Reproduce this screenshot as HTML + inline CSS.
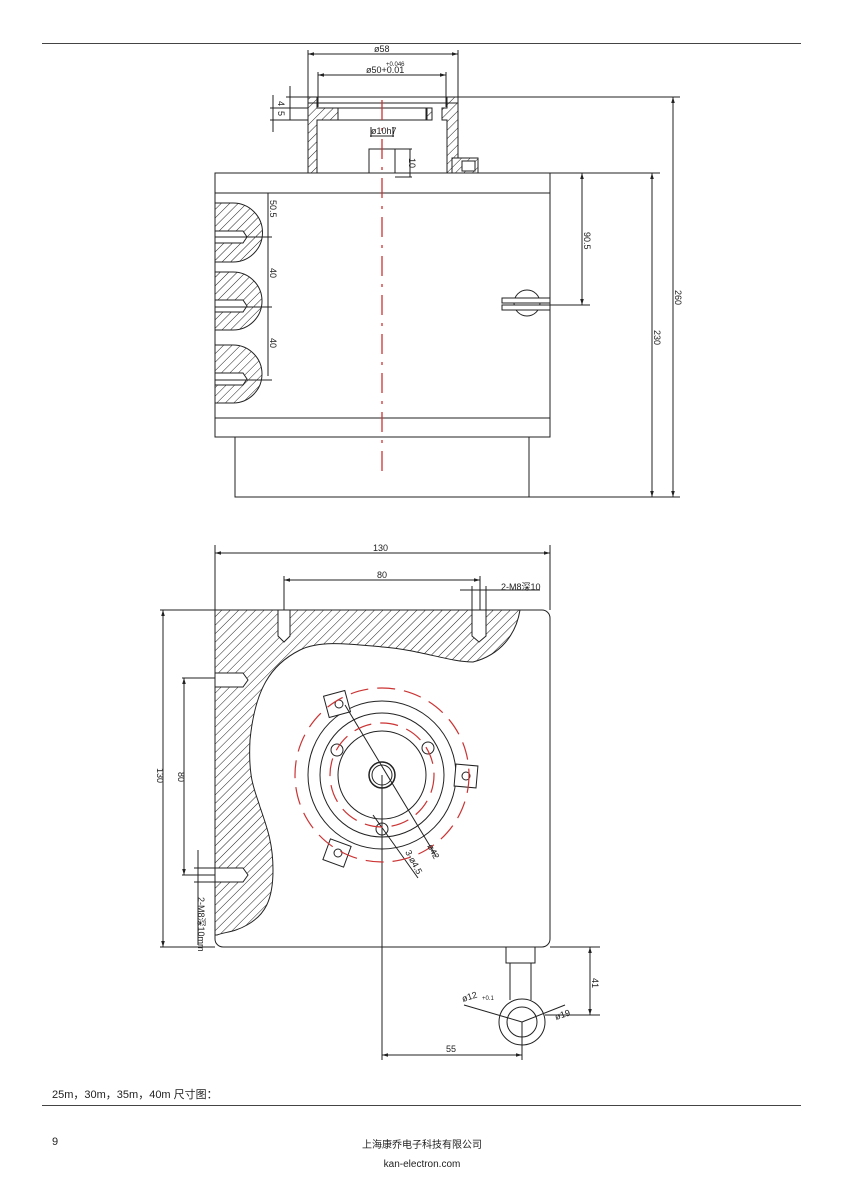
<!DOCTYPE html>
<html><head><meta charset="utf-8"><style>
html,body{margin:0;padding:0;background:#fff}
svg{display:block}
text{font-family:"Liberation Sans","Noto Sans CJK SC",sans-serif;fill:#222}
</style></head><body>
<svg width="844" height="1193" viewBox="0 0 844 1193" xmlns="http://www.w3.org/2000/svg">
<defs>
<pattern id="h" patternUnits="userSpaceOnUse" width="6" height="6" patternTransform="rotate(45)">
<rect width="6" height="6" fill="#fff"/><line x1="0" y1="0" x2="0" y2="6" stroke="#222" stroke-width="1"/>
</pattern>
<marker id="a" viewBox="0 0 10 10" refX="10" refY="5" markerWidth="6" markerHeight="6" orient="auto-start-reverse"><path d="M0,2 L10,5 L0,8z" fill="#222"/></marker>
</defs>
<line x1="42" y1="43.5" x2="801" y2="43.5" stroke="#444" stroke-width="1"/>
<g stroke="#222" stroke-width="1" fill="none">
<!-- top cup -->
<rect x="308" y="97" width="150" height="81" fill="#fff"/>
<path d="M308,97 h9 v11 h21 v12 h-21 v58 h-9z" fill="url(#h)"/>
<path d="M447,97 h11 v81 h-11 v-58 h-5 v-12 h5z" fill="url(#h)"/>
<rect x="427" y="108" width="5" height="12" fill="url(#h)"/>
<rect x="338" y="108" width="88" height="12"/>
<line x1="308" y1="103" x2="458" y2="103"/>
<rect x="369" y="149" width="26" height="28"/>
<line x1="370" y1="136" x2="394" y2="136"/>
<rect x="452" y="158" width="26" height="16" fill="url(#h)"/>
<rect x="462" y="161" width="13" height="10" fill="#fff"/>
<!-- body -->
<rect x="215" y="173" width="335" height="264" fill="#fff"/>
<line x1="215" y1="193" x2="550" y2="193"/>
<line x1="215" y1="418" x2="550" y2="418"/>
<path d="M235,437 V497 H529 V437"/>
<path d="M215,203 h18 a29.5,29.5 0 0 1 0,59 h-18z M215,272 h18 a29,29 0 0 1 0,58 h-18z M215,345 h18 a29,29 0 0 1 0,58 h-18z" fill="url(#h)"/>
<path d="M215,231 h28 l4,6 l-4,6 h-28z M215,300 h28 l4,6 l-4,6 h-28z M215,373 h28 l4,6 l-4,6 h-28z" fill="#fff"/>
<circle cx="527" cy="303" r="13" fill="#fff"/>
<rect x="502" y="298" width="48" height="5" fill="#fff"/><rect x="502" y="305" width="48" height="5" fill="#fff"/>
<!-- dims top -->
<line x1="308" y1="97" x2="308" y2="50"/><line x1="458" y1="97" x2="458" y2="50"/>
<line x1="308" y1="54" x2="458" y2="54" marker-start="url(#a)" marker-end="url(#a)"/>
<line x1="318" y1="107" x2="318" y2="72"/><line x1="446" y1="107" x2="446" y2="72"/>
<line x1="318" y1="75" x2="446" y2="75" marker-start="url(#a)" marker-end="url(#a)"/>
<line x1="286" y1="97" x2="308" y2="97"/><line x1="270" y1="120" x2="308" y2="120"/><line x1="270" y1="108" x2="308" y2="108"/>
<line x1="290" y1="86" x2="290" y2="120"/><line x1="273" y1="95" x2="273" y2="132"/>
<line x1="371" y1="137" x2="371" y2="127"/><line x1="393" y1="137" x2="393" y2="127"/>
<line x1="395" y1="149" x2="412" y2="149"/><line x1="395" y1="177" x2="412" y2="177"/><line x1="410" y1="149" x2="410" y2="177"/>
<line x1="268" y1="193" x2="268" y2="376"/>
<line x1="215" y1="237" x2="272" y2="237"/><line x1="215" y1="307" x2="272" y2="307"/><line x1="215" y1="380" x2="272" y2="380"/>
<line x1="550" y1="173" x2="590" y2="173"/><line x1="550" y1="305" x2="590" y2="305"/>
<line x1="582" y1="173" x2="582" y2="305" marker-start="url(#a)" marker-end="url(#a)"/>
<line x1="458" y1="97" x2="680" y2="97"/><line x1="529" y1="497" x2="680" y2="497"/>
<line x1="550" y1="173" x2="660" y2="173"/>
<line x1="652" y1="173" x2="652" y2="497" marker-start="url(#a)" marker-end="url(#a)"/>
<line x1="673" y1="97" x2="673" y2="497" marker-start="url(#a)" marker-end="url(#a)"/>
</g>
<line x1="382" y1="100" x2="382" y2="472" stroke="#c33" stroke-width="1.3" stroke-dasharray="20,8,3,8"/>
<g font-size="9">
<text x="374" y="52">ø58</text>
<text x="366" y="73">ø50+0.01</text><text x="386" y="66" font-size="6">+0.046</text>
<text x="371" y="134">ø10h7</text>
<text transform="translate(278,101) rotate(90)">4</text>
<text transform="translate(278,111) rotate(90)">5</text>
<text transform="translate(409,158) rotate(90)">10</text>
<text transform="translate(270,200) rotate(90)">50.5</text>
<text transform="translate(270,268) rotate(90)">40</text>
<text transform="translate(270,338) rotate(90)">40</text>
<text transform="translate(584,232) rotate(90)">90.5</text>
<text transform="translate(654,330) rotate(90)">230</text>
<text transform="translate(675,290) rotate(90)">260</text>
</g>
<!-- bottom view -->
<g stroke="#222" stroke-width="1" fill="none">
<path d="M215,610 H542 a8,8 0 0 1 8,8 V939 a8,8 0 0 1 -8,8 H223 a8,8 0 0 1 -8,-8z" fill="#fff"/>
<path d="M215,610 L520,610 C516,635 500,655 473,662 C450,662 420,650 383,647 C350,644 320,640 300,650 C270,665 255,690 250,740 C248,780 255,790 260,807 C268,830 273,845 273,870 C273,900 265,915 247,925 C235,932 225,932 217,935 L215,935z" fill="url(#h)"/>
<path d="M278,610 v26 l6,6 l6,-6 v-26z M472,610 v26 l7,6 l7,-6 v-26z M215,673 h28 l5,7 l-5,7 h-28z M215,868 h28 l5,7 l-5,7 h-28z" fill="#fff"/>
<circle cx="382" cy="775" r="74"/><circle cx="382" cy="775" r="62"/><circle cx="382" cy="775" r="44"/>
<circle cx="382" cy="775" r="13" stroke-width="1.5"/><circle cx="382" cy="775" r="10"/>
<circle cx="337" cy="750" r="6"/><circle cx="428" cy="748" r="6"/><circle cx="382" cy="829" r="6"/>
<g fill="#fff"><rect x="326" y="693" width="22" height="22" transform="rotate(-15 337 704)"/><rect x="455" y="765" width="22" height="22" transform="rotate(5 466 776)"/><rect x="326" y="842" width="22" height="22" transform="rotate(20 337 853)"/></g>
<circle cx="339" cy="704" r="4"/><circle cx="466" cy="776" r="4"/><circle cx="338" cy="853" r="4"/>
<line x1="345" y1="705" x2="436" y2="856"/>
<line x1="373" y1="815" x2="418" y2="878"/>
<line x1="382" y1="775" x2="382" y2="1060"/>
<path d="M506,947 v16 h29 v-16 M510,963 v37 M531,963 v37"/>
<circle cx="522" cy="1022" r="23" fill="#fff"/><circle cx="522" cy="1022" r="15"/>
<line x1="464" y1="1005" x2="522" y2="1022"/><line x1="522" y1="1022" x2="565" y2="1005"/>
<line x1="522" y1="1022" x2="522" y2="1060"/>
<line x1="382" y1="1055" x2="522" y2="1055" marker-start="url(#a)" marker-end="url(#a)"/>
<line x1="550" y1="947" x2="600" y2="947"/><line x1="545" y1="1015" x2="600" y2="1015"/>
<line x1="590" y1="947" x2="590" y2="1015" marker-start="url(#a)" marker-end="url(#a)"/>
<line x1="215" y1="610" x2="215" y2="545"/><line x1="550" y1="610" x2="550" y2="545"/>
<line x1="215" y1="553" x2="550" y2="553" marker-start="url(#a)" marker-end="url(#a)"/>
<line x1="284" y1="610" x2="284" y2="576"/><line x1="480" y1="610" x2="480" y2="576"/>
<line x1="284" y1="580" x2="480" y2="580" marker-start="url(#a)" marker-end="url(#a)"/>
<line x1="460" y1="590" x2="540" y2="590"/><line x1="472" y1="586" x2="472" y2="610"/><line x1="486" y1="586" x2="486" y2="610"/>
<line x1="160" y1="610" x2="215" y2="610"/><line x1="160" y1="947" x2="215" y2="947"/>
<line x1="163" y1="610" x2="163" y2="947" marker-start="url(#a)" marker-end="url(#a)"/>
<line x1="182" y1="678" x2="215" y2="678"/><line x1="182" y1="875" x2="215" y2="875"/>
<line x1="184" y1="678" x2="184" y2="875" marker-start="url(#a)" marker-end="url(#a)"/>
<line x1="198" y1="850" x2="198" y2="945"/><line x1="194" y1="868" x2="215" y2="868"/><line x1="194" y1="882" x2="215" y2="882"/>
</g>
<g stroke="#c33" stroke-width="1.2" fill="none" stroke-dasharray="18,9">
<circle cx="382" cy="775" r="87"/><circle cx="382" cy="775" r="52"/>
</g>
<g font-size="9">
<text x="373" y="551">130</text>
<text x="377" y="578">80</text>
<text x="501" y="590">2-M8深10</text>
<text transform="translate(157,768) rotate(90)">130</text>
<text transform="translate(178,772) rotate(90)">80</text>
<text transform="translate(198,897) rotate(90)">2-M8深10mm</text>
<text transform="translate(427,846) rotate(62)">ø42</text>
<text transform="translate(405,852) rotate(62)">3-ø4.5</text>
<text transform="translate(463,1002) rotate(-18)">ø12</text><text x="482" y="1000" font-size="6">+0.1</text>
<text transform="translate(556,1020) rotate(-18)">ø19</text>
<text transform="translate(592,978) rotate(90)">41</text>
<text x="446" y="1052">55</text>
</g>
<text x="52" y="1098" font-size="11">25m，30m，35m，40m 尺寸图：</text>
<line x1="42" y1="1105.5" x2="801" y2="1105.5" stroke="#444" stroke-width="1"/>
<text x="52" y="1145" font-size="11">9</text>
<text x="422" y="1148" font-size="10" text-anchor="middle">上海康乔电子科技有限公司</text>
<text x="422" y="1167" font-size="10" text-anchor="middle">kan-electron.com</text>
</svg>
</body></html>
